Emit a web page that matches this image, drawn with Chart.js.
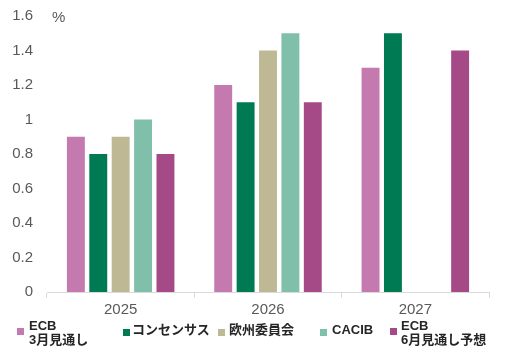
<!DOCTYPE html>
<html><head><meta charset="utf-8">
<script src="https://cdn.jsdelivr.net/npm/chart.js@4/dist/chart.umd.min.js"></script>
<style>
html,body{margin:0;padding:0;background:#fff;}
#wrap{position:relative;width:513px;height:355px;overflow:hidden;}
#pct{position:absolute;left:52px;top:8px;font:15px "Liberation Sans",Arial,sans-serif;color:#595959;}
.lg{position:absolute;font:bold 13px "Liberation Sans","Noto Sans CJK JP",sans-serif;color:#262626;line-height:14px;white-space:nowrap;}
.lg i{position:absolute;width:7px;height:7px;}
</style></head>
<body><div id="wrap"><canvas id="c" width="513" height="355"></canvas><div id="pct">%</div><div id="legend"></div></div>
<script>
const categories = ["2025", "2026", "2027"];
const seriesNames = [["ECB","3月見通し"], ["コンセンサス"], ["欧州委員会"], ["CACIB"], ["ECB","6月見通し予想"]];
const ecbMarch = [0.9, 1.2, 1.3];
const consensus = [0.8, 1.1, 1.5];
const euroCommission = [0.9, 1.4, null];
const cacib = [1.0, 1.5, null];
const ecbJune = [0.8, 1.1, 1.4];
const yTicks = [0, 0.2, 0.4, 0.6, 0.8, 1, 1.2, 1.4, 1.6];
const colors = ["#C47AAE", "#007A53", "#BEB994", "#80BFA9", "#A54A87"];
const values = [ecbMarch, consensus, euroCommission, cacib, ecbJune];

new Chart(document.getElementById('c'), {
  type: 'bar',
  data: {
    labels: categories,
    datasets: values.map((v, i) => ({
      label: seriesNames[i].join(' '),
      data: v,
      backgroundColor: colors[i],
      borderWidth: 0,
      barPercentage: 0.8,
      categoryPercentage: 0.76
    }))
  },
  options: {
    responsive: false,
    animation: false,
    layout: { padding: { left: 6, top: 0, right: 24, bottom: 33 } },
    plugins: { legend: { display: false }, tooltip: { enabled: false } },
    scales: {
      x: {
        grid: { display: true, offset: true, drawOnChartArea: false, drawTicks: true, tickLength: 6, color: '#D9D9D9' },
        border: { display: true, color: '#D9D9D9', width: 1 },
        ticks: { color: '#595959', font: { family: '"Liberation Sans", Arial', size: 15 }, padding: 3 }
      },
      y: {
        min: 0, max: 1.6,
        afterBuildTicks: (s) => { s.ticks = yTicks.map(v => ({ value: v })); },
        afterFit: (s) => { s.width = 41; s.paddingTop = 16; s.paddingBottom = 9; },
        grid: { display: false, drawTicks: false },
        border: { display: false },
        ticks: { color: '#595959', font: { family: '"Liberation Sans", Arial', size: 15 }, padding: 14,
          callback: (v) => String(Math.round(v * 10) / 10) }
      }
    }
  }
});

const lgPos = [[17, 29], [123, 132], [218, 229], [320, 332], [390, 401]];
const lg = document.getElementById('legend');
seriesNames.forEach((n, i) => {
  const d = document.createElement('div');
  d.className = 'lg';
  const two = n.length > 1;
  d.style.left = lgPos[i][1] + 'px';
  d.style.top = (two ? 319 : 323) + 'px';
  d.innerHTML = n.join('<br>');
  const m = document.createElement('i');
  m.style.background = colors[i];
  m.style.left = (lgPos[i][0] - lgPos[i][1]) + 'px';
  m.style.top = (two ? 9 : 6) + 'px';
  d.appendChild(m);
  lg.appendChild(d);
});
</script></body></html>
